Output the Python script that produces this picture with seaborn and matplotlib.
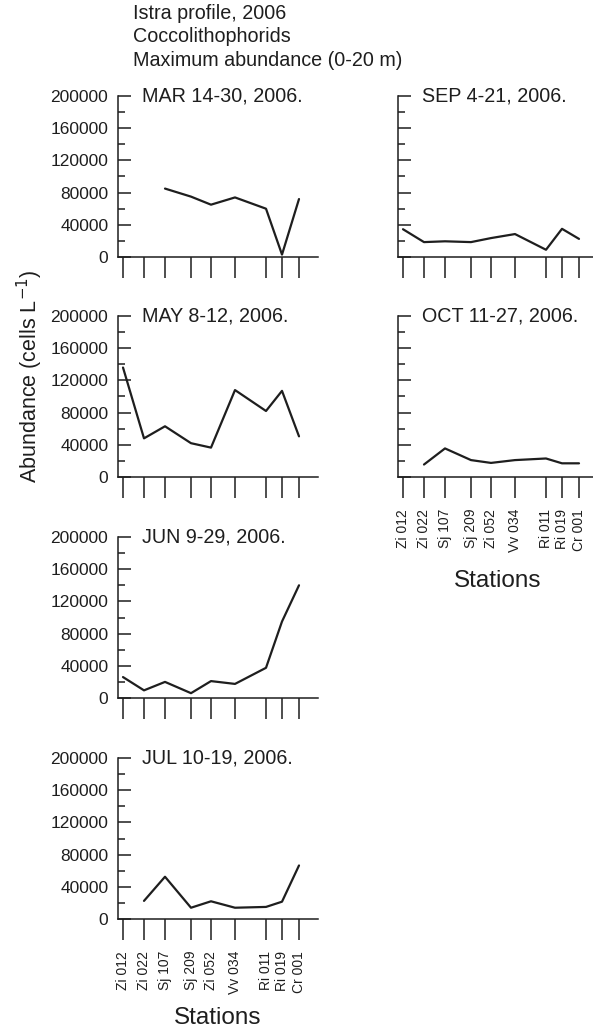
import matplotlib.pyplot as plt
import numpy as np
import pandas as pd
import seaborn as sns
from matplotlib.ticker import MultipleLocator

# Stations along the Istra profile and their position on the axis (km along profile)
stations = ["Zi 012", "Zi 022", "Sj 107", "Sj 209", "Zi 052",
            "Vv 034", "Ri 011", "Ri 019", "Cr 001"]
station_km = [5, 26, 47, 73, 93, 117, 148, 164, 181]

# Maximum abundance (cells L-1) for each cruise
mar = [np.nan, np.nan, 85000, 75000, 65000, 74000, 60000, 3000, 72000]
may = [136000, 48000, 63000, 42000, 36500, 108000, 82000, 107000, 50500]
jun = [26000, 9500, 20000, 6000, 21000, 17500, 37500, 95000, 140000]
jul = [np.nan, 22500, 52500, 14000, 22000, 14000, 15000, 21500, 66500]
sep = [34500, 18500, 19500, 18500, 23500, 28500, 9000, 35000, 22500]
oct_ = [np.nan, 15500, 35500, 21000, 17500, 21000, 23000, 17000, 17000]

cruises = ["MAR 14-30, 2006.", "MAY 8-12, 2006.", "JUN 9-29, 2006.",
           "JUL 10-19, 2006.", "SEP 4-21, 2006.", "OCT 11-27, 2006."]
values = [mar, may, jun, jul, sep, oct_]

# Long table for seaborn
rows = []
for cruise, vals in zip(cruises, values):
    for st, km, v in zip(stations, station_km, vals):
        rows.append({"Cruise": cruise, "Station": st, "km": km, "Abundance": v})
data = pd.DataFrame(rows).dropna()

sns.set_style("ticks")
plt.rcParams["font.family"] = ["Liberation Sans", "DejaVu Sans"]
ink = "#1e1e1e"

fig = plt.figure(figsize=(5.93, 10.32), dpi=100)

# (left, bottom, y tick labels?, station labelpad or None) of each panel
w, h = 200 / 593, 161 / 1032
layout = {
    "MAR 14-30, 2006.": (118 / 593, 1 - 257 / 1032, True, None),
    "MAY 8-12, 2006.": (118 / 593, 1 - 477 / 1032, True, None),
    "JUN 9-29, 2006.": (118 / 593, 1 - 698 / 1032, True, None),
    "JUL 10-19, 2006.": (118 / 593, 1 - 919 / 1032, True, 9),
    "SEP 4-21, 2006.": (398 / 593, 1 - 257 / 1032, False, None),
    "OCT 11-27, 2006.": (398 / 593, 1 - 477 / 1032, False, 13),
}

for cruise in cruises:
    left, bottom, ylabels, xpad = layout[cruise]
    ax = fig.add_axes([left, bottom, w, h])
    sub = data[data["Cruise"] == cruise]
    sns.lineplot(data=sub, x="km", y="Abundance", color=ink, linewidth=1.6,
                 ax=ax, legend=False)
    ax.set_xlim(0, 200)
    ax.set_ylim(0, 200000)
    ax.set_xticks(station_km)
    ax.yaxis.set_major_locator(MultipleLocator(40000))
    ax.yaxis.set_minor_locator(MultipleLocator(20000))
    sns.despine(ax=ax)
    for s in ["left", "bottom"]:
        ax.spines[s].set_linewidth(1.1)
        ax.spines[s].set_color(ink)
    ax.tick_params(axis="x", direction="out", length=15, width=1.1, color=ink,
                   labelsize=10, labelrotation=90, pad=8, labelcolor=ink)
    ax.tick_params(axis="y", which="major", direction="in", length=9, width=1.1,
                   color=ink, labelsize=12.5, pad=7, labelcolor=ink)
    ax.tick_params(axis="y", which="minor", direction="in", length=5, width=1.1,
                   color=ink)
    if xpad is not None:
        ax.set_xticklabels(stations)
        ax.set_xlabel("Stations", fontsize=17.5, color=ink, labelpad=xpad)
    else:
        ax.set_xticklabels([])
        ax.set_xlabel("")
    if not ylabels:
        ax.set_yticklabels([])
    ax.set_ylabel("")
    ax.text(0.12, 1.0, cruise, transform=ax.transAxes, ha="left", va="center",
            fontsize=14.2, color=ink)

fig.text(133 / 593, 1 - 4 / 1032,
         "Istra profile, 2006\nCoccolithophorids\nMaximum abundance (0-20 m)",
         ha="left", va="top", fontsize=14.2, color=ink, linespacing=1.3)
fig.text(30 / 593, 1 - 376 / 1032, "Abundance (cells L$^{-1}$)", rotation=90,
         ha="center", va="center", fontsize=15.5, color=ink)

fig.savefig("out.png", dpi=100)
